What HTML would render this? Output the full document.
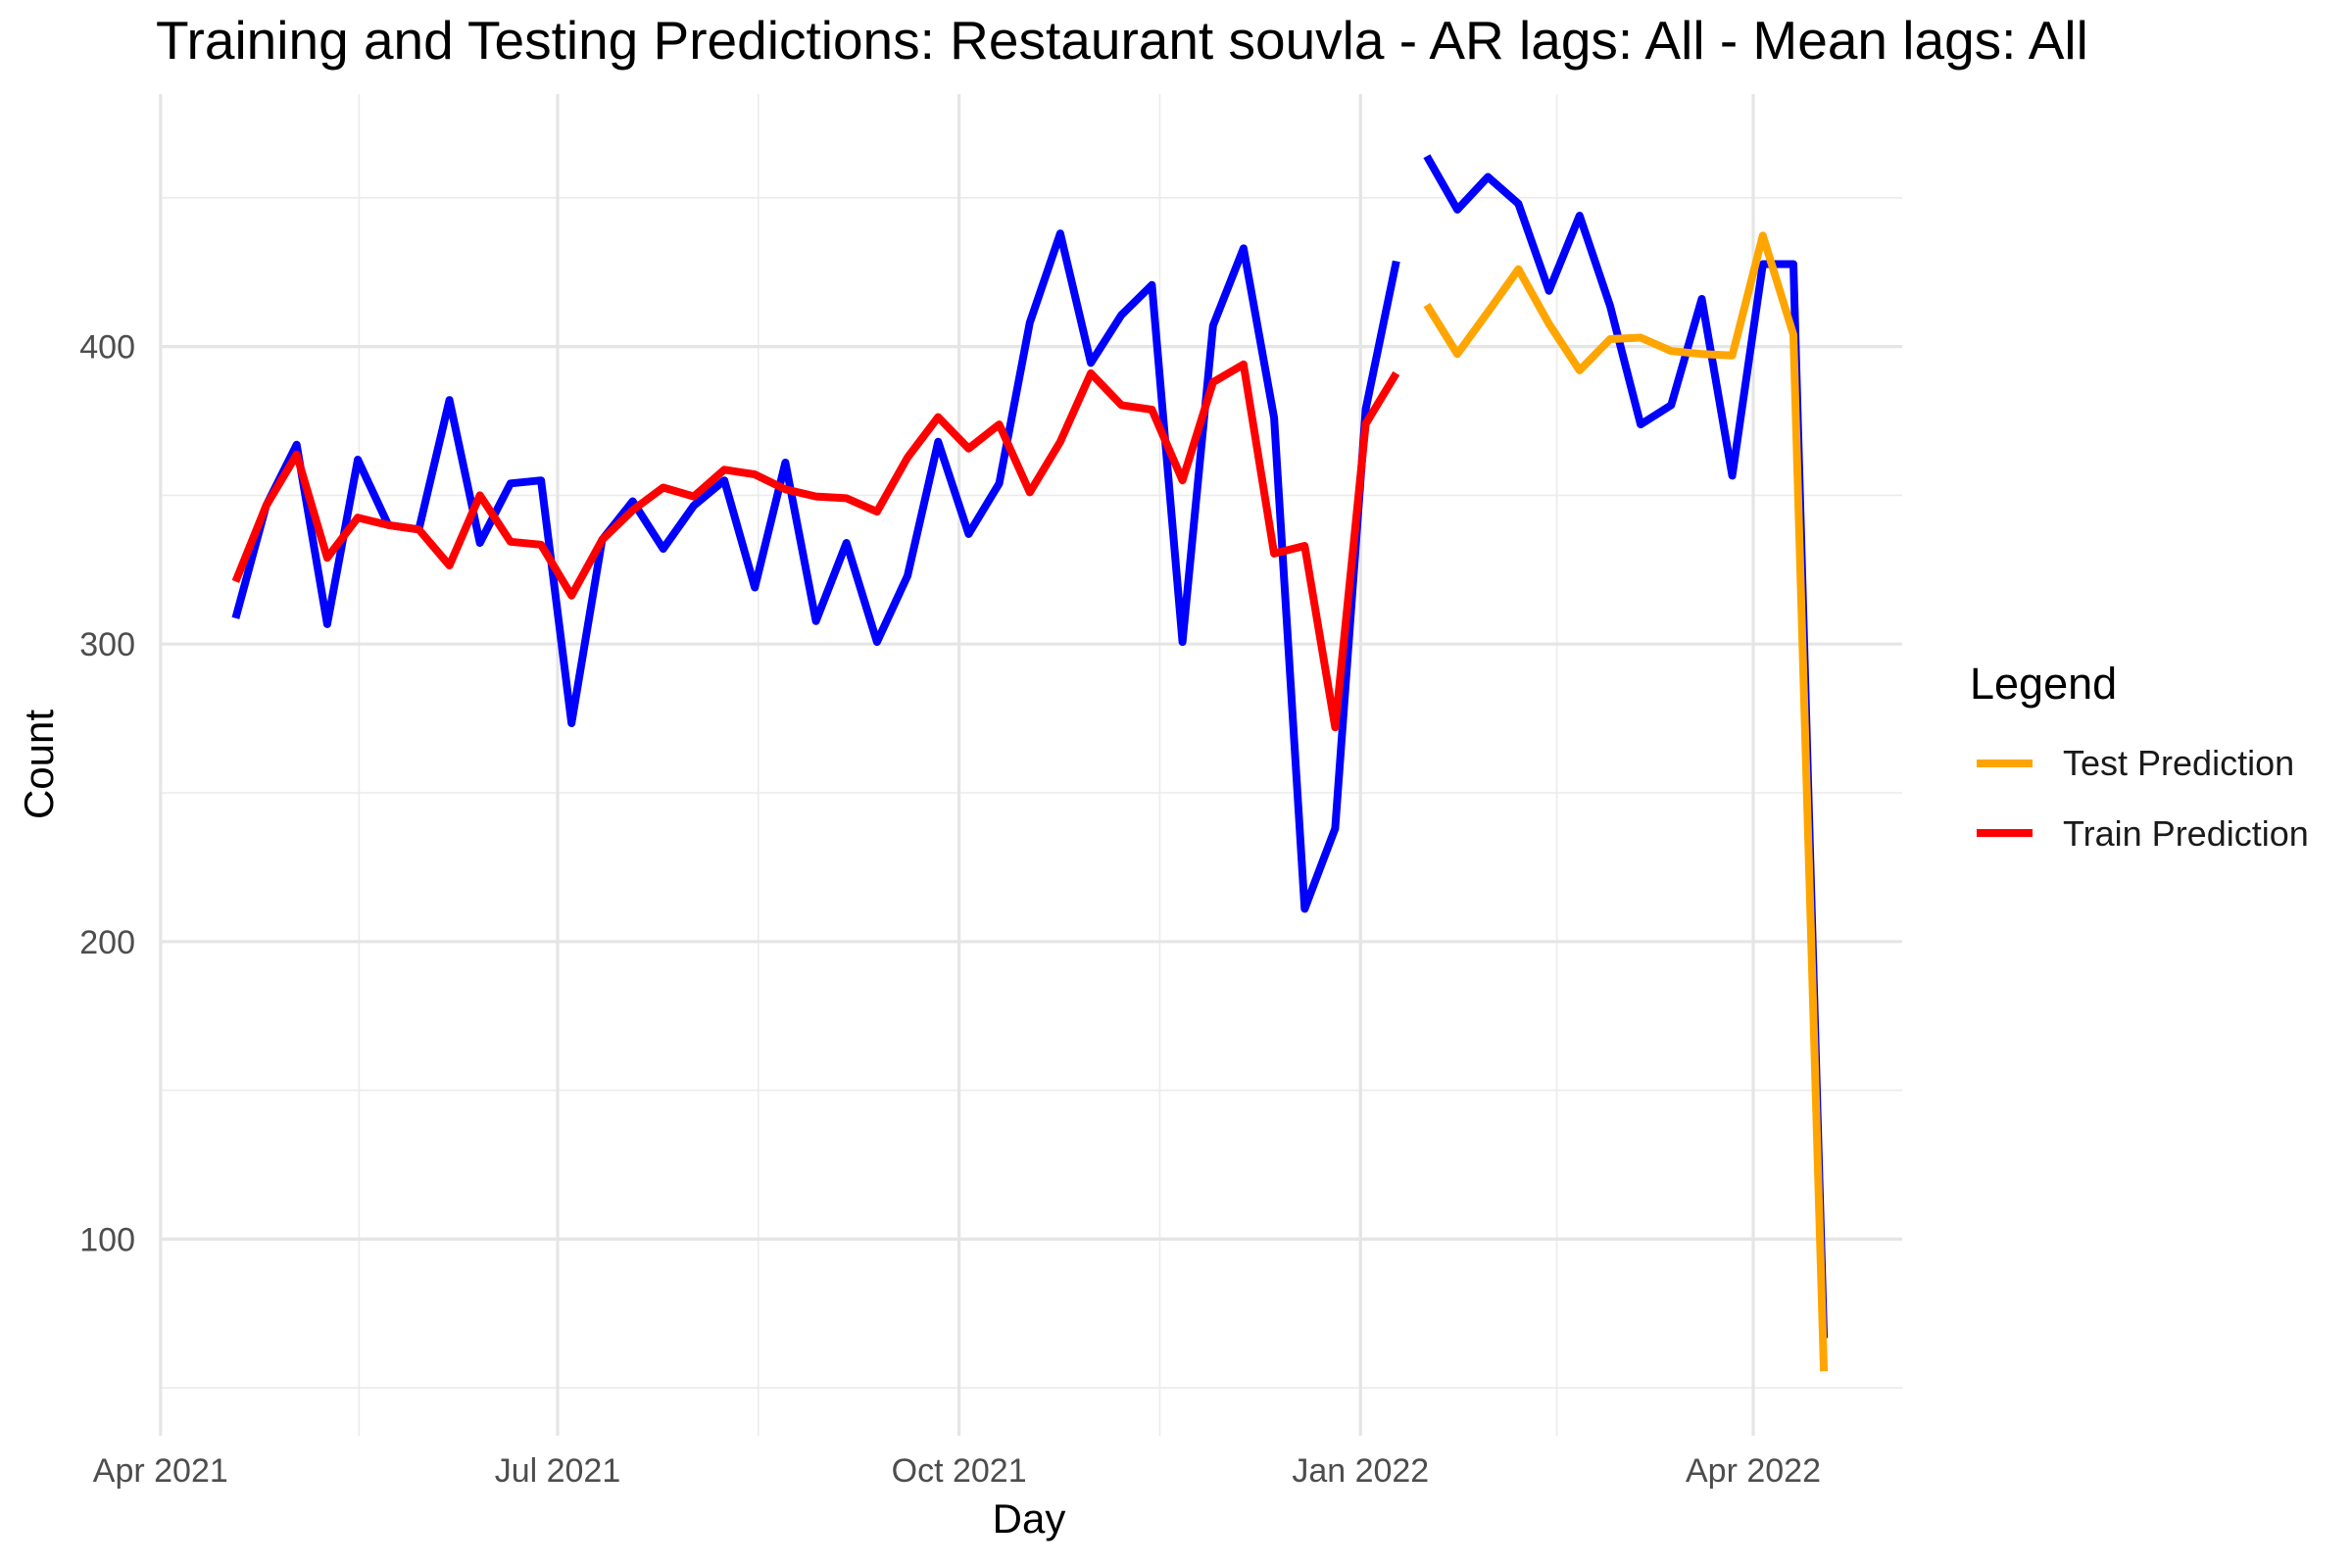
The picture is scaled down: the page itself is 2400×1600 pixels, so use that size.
<!DOCTYPE html>
<html><head><meta charset="utf-8"><style>
html,body{margin:0;padding:0;background:#fff;}
svg{display:block;font-family:"Liberation Sans",Arial,sans-serif;}
</style></head><body>
<svg id="chart" width="2400" height="1600" viewBox="0 0 2400 1600" xmlns="http://www.w3.org/2000/svg">
<rect width="2400" height="1600" fill="#fff"/>
<text x="159" y="60" font-size="55" fill="#000">Training and Testing Predictions: Restaurant souvla - AR lags: All - Mean lags: All</text>
<g id="grid"></g>
<g id="series"></g>
<g id="axes"></g>
<text x="1050" y="1564" font-size="42" text-anchor="middle" fill="#000">Day</text>
<text transform="translate(54,780) rotate(-90)" font-size="42" text-anchor="middle" fill="#000">Count</text>
<g>
<text x="2010" y="713" font-size="45" fill="#000">Legend</text>
<line x1="2017" y1="779" x2="2074" y2="779" stroke="#FFA500" stroke-width="8"/>
<text x="2105" y="791" font-size="36" fill="#1a1a1a">Test Prediction</text>
<line x1="2017" y1="850" x2="2074" y2="850" stroke="#FF0000" stroke-width="8"/>
<text x="2105" y="863" font-size="36" fill="#1a1a1a">Train Prediction</text>
</g>
</svg>
<script>
const trainActual = [308.7,346.5,367,306.7,362,340,338.5,382,334,354,355,273.4,335,348,332,346.5,355,319,361,307.7,334,300.7,323,368,337,354,408,438,394.5,410.6,420.7,300.7,407,433,376,211,238,379,428.7];
const trainPred = [321,346.5,363.7,329,342.5,340,338.5,326.4,350,334.4,333.4,316.3,335,345,352.6,349.6,358.6,357,352,349.6,349,344.5,362.7,376.3,365.7,373.8,351,368,391,380.3,378.8,355,388,394,330.4,333,272,374,391];
const testActual = [464,446,457,448,418.7,444,413.6,373.8,380.3,416,356.6,427.7,427.7,66.7];
const testPred = [414,397.5,411.6,426,407.6,392,402.5,403,398.5,397.5,397,437.3,404,55.6];
const firstWeekDay = 17.2; // days after 2021-04-01
const yTicks = [100,200,300,400];
const yMinor = [50,150,250,350,450];
const xTickLabels = ["Apr 2021","Jul 2021","Oct 2021","Jan 2022","Apr 2022"];
const xTickDays = [0,91,183,275,365];
const xMinorDays = [45.5,137,229,320];

const NS="http://www.w3.org/2000/svg";
const PL=164,PR=1941,PT=96,PB=1465;
const pxPerDay=(1789-163.8)/365;
function xs(d){return 163.8+d*pxPerDay;}
function ys(v){return 353.6+(400-v)*3.036;}
function mk(tag,attrs,parent){const e=document.createElementNS(NS,tag);for(const k in attrs)e.setAttribute(k,attrs[k]);parent.appendChild(e);return e;}
const grid=document.getElementById('grid'),series=document.getElementById('series'),axes=document.getElementById('axes');
yMinor.forEach(v=>{const l=mk('line',{x1:PL,x2:PR,y1:ys(v),y2:ys(v),stroke:'#ebebeb','stroke-width':1.6},grid);

});
xMinorDays.forEach(d=>{const l=mk('line',{x1:xs(d),x2:xs(d),y1:PT,y2:PB,stroke:'#ebebeb','stroke-width':1.6},grid);

});
yTicks.forEach(v=>{const l=mk('line',{x1:PL,x2:PR,y1:ys(v),y2:ys(v),stroke:'#e5e5e5','stroke-width':3.2},grid);


const t=mk('text',{x:138,y:ys(v)+12,'font-size':34,'text-anchor':'end',fill:'#4d4d4d'},axes);t.textContent=v;

});
xTickDays.forEach((d,i)=>{const l=mk('line',{x1:xs(d),x2:xs(d),y1:PT,y2:PB,stroke:'#e5e5e5','stroke-width':3.2},grid);


const t=mk('text',{x:xs(d),y:1512,'font-size':34,'text-anchor':'middle',fill:'#4d4d4d'},axes);t.textContent=xTickLabels[i];

});
function line(vals,offset,color,name){
  const pts=vals.map((v,i)=>xs(firstWeekDay+7*(i+offset)).toFixed(1)+','+ys(v).toFixed(1)).join(' ');
  const p=mk('polyline',{points:pts,fill:'none',stroke:color,'stroke-width':8,'stroke-linejoin':'round'},series);
  
  
}
line(trainActual,0,'#0000FF','train-actual-line');
line(trainPred,0,'#FF0000','train-prediction-line');
line(testActual,trainActual.length,'#0000FF','test-actual-line');
line(testPred,trainActual.length,'#FFA500','test-prediction-line');
</script>
</body></html>
